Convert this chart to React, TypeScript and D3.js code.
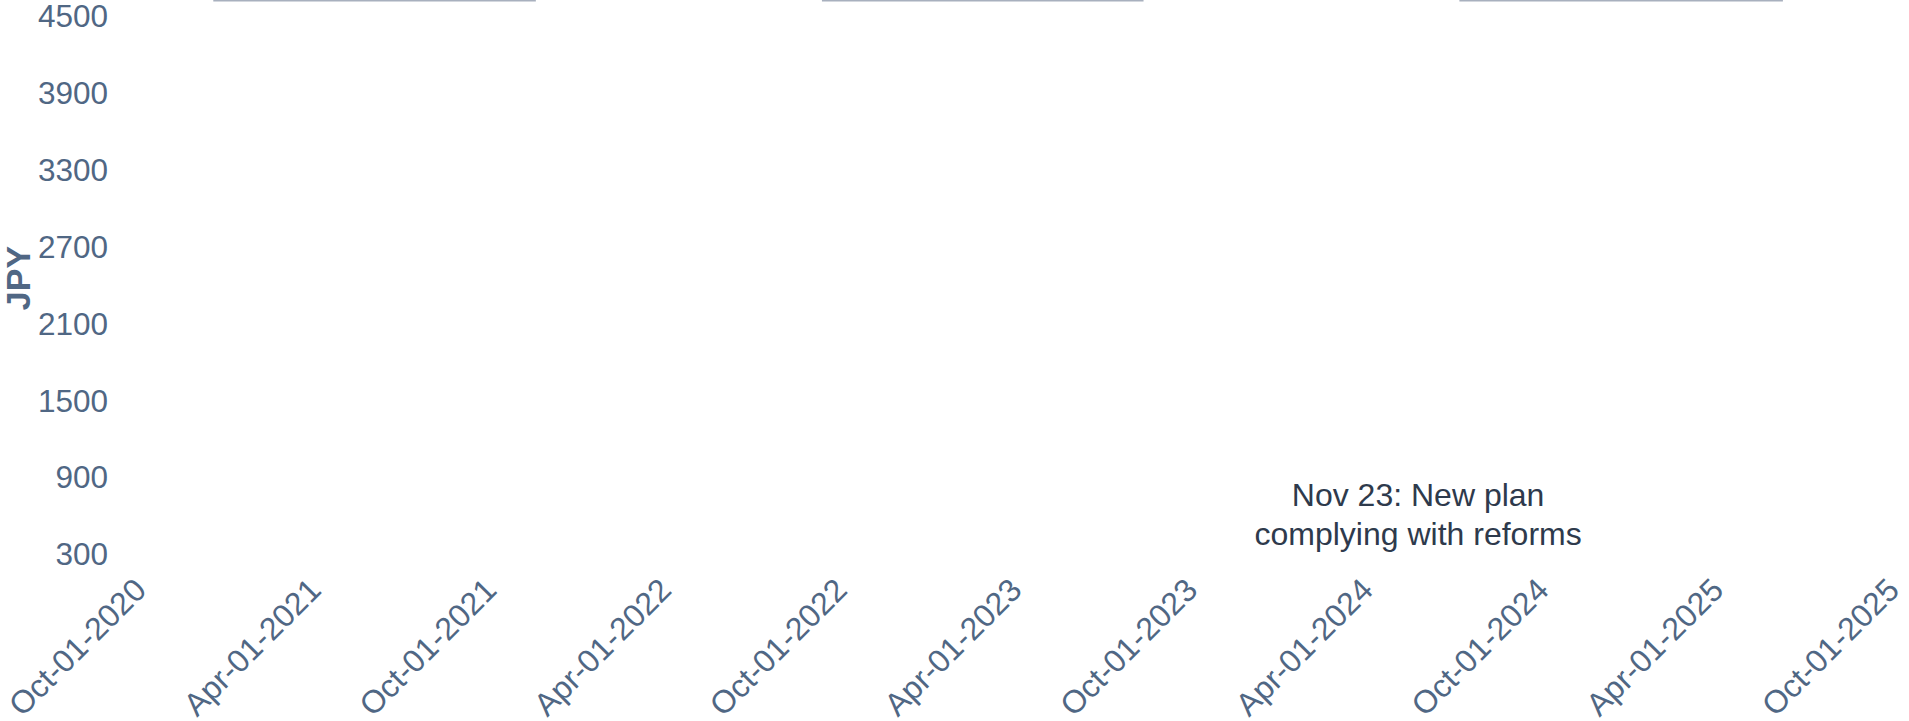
import React, { useEffect } from 'react';
import * as d3 from 'd3';

// y axis ticks (JPY)
const yTicks = [300, 900, 1500, 2100, 2700, 3300, 3900, 4500];

// x axis tick dates, every six months
const xTickDates = [
  '2020-10-01', '2021-04-01', '2021-10-01', '2022-04-01', '2022-10-01', '2023-04-01',
  '2023-10-01', '2024-04-01', '2024-10-01', '2025-04-01', '2025-10-01',
];

// flat segments along the top edge of the plot
const segStarts = ['2020-12-08', '2022-09-03', '2024-06-28'];
const segEnds = ['2021-11-09', '2023-08-04', '2025-05-31'];
const segValues = [4615, 4615, 4615];

// annotation
const noteDate = '2024-05-16';
const noteValue = 415;
const noteLines = ['Nov 23: New plan', 'complying with reforms'];

const W = 1909;
const H = 721;
const FONT = '"Liberation Sans", Arial, sans-serif';
const TICK_COLOR = '#506784';

export default function App() {
  useEffect(() => {
    document.body.style.margin = '0';
  }, []);

  const parse = d3.timeParse('%Y-%m-%d');
  const fmt = d3.timeFormat('%b-%d-%Y');

  const x = d3.scaleTime()
    .domain([parse('2020-10-01')!, parse('2025-10-01')!])
    .range([148, 1901]);

  const y = d3.scaleLinear()
    .domain([288, 4621])
    .range([556, 0]);

  const tickY = 592;
  const noteX = x(parse(noteDate)!);

  return (
    <svg width={W} height={H} style={{ display: 'block', background: '#fff' }} fontFamily={FONT}>
      {/* top segments */}
      <g>
        {segStarts.map((s, i) => (
          <line
            key={s}
            x1={x(parse(s)!)}
            x2={x(parse(segEnds[i])!)}
            y1={y(segValues[i])}
            y2={y(segValues[i])}
            stroke="#a8b0be"
            strokeWidth={1.6}
          />
        ))}
      </g>

      {/* y axis labels */}
      <g>
        {yTicks.map(t => (
          <text
            key={t}
            x={108}
            y={y(t)}
            dy="0.35em"
            textAnchor="end"
            fontSize={31.5}
            fill={TICK_COLOR}
          >
            {t}
          </text>
        ))}
      </g>

      {/* y axis title */}
      <text
        transform={`translate(30,278) rotate(-90)`}
        textAnchor="middle"
        fontSize={34}
        fontWeight="bold"
        fill={TICK_COLOR}
      >
        JPY
      </text>

      {/* x axis labels */}
      <g>
        {xTickDates.map(d => {
          const dt = parse(d)!;
          return (
            <text
              key={d}
              transform={`translate(${x(dt)},${tickY}) rotate(-45)`}
              textAnchor="end"
              fontSize={32}
              fill={TICK_COLOR}
            >
              {fmt(dt)}
            </text>
          );
        })}
      </g>

      {/* annotation */}
      <text
        x={noteX}
        y={y(noteValue)}
        textAnchor="middle"
        fontSize={32}
        fill="#2e3a4c"
      >
        {noteLines.map((l, i) => (
          <tspan key={l} x={noteX} dy={i === 0 ? '-1.06em' : '1.21em'}>
            {l}
          </tspan>
        ))}
      </text>
    </svg>
  );
}
